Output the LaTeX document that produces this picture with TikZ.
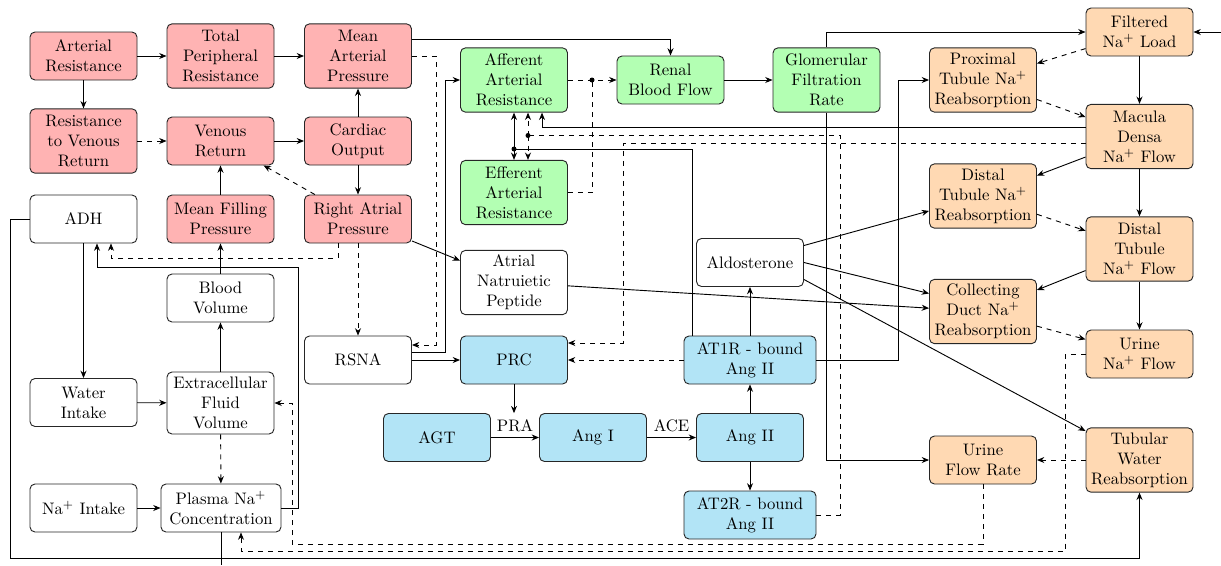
\documentclass[tikz,border=0pt]{standalone}
\usetikzlibrary{calc,arrows.meta}
\definecolor{cpink}{RGB}{255,179,179}
\definecolor{cgreen}{RGB}{179,255,179}
\definecolor{cblue}{RGB}{178,228,246}
\definecolor{corange}{RGB}{255,217,179}
\tikzset{
  box/.style={draw=black!85, rounded corners=3pt, align=center, minimum width=64.2pt,
    minimum height=28.8pt, inner sep=1pt, fill=white},
  tall/.style={minimum height=38.6pt},
  pinkb/.style={box, fill=cpink},
  greenb/.style={box, fill=cgreen},
  blueb/.style={box, fill=cblue},
  orangeb/.style={box, fill=corange},
  jdot/.style={circle, fill, inner sep=0pt, minimum size=3pt},
  >={Stealth[length=4.4pt,width=3.6pt]}
}
\begin{document}
\begin{tikzpicture}[x=0.6pt,y=-0.6pt,line width=0.55pt]
\useasboundingbox (0,0) rectangle (1221,565);
% ---- left column (circulation)
\node[pinkb] (ar) at (83.5,56) {Arterial\\Resistance};
\node[pinkb,tall] (tpr) at (220.5,56) {Total\\Peripheral\\Resistance};
\node[pinkb,tall] (map) at (358,56) {Mean\\Arterial\\Pressure};
\node[pinkb,tall] (rvr) at (83.5,141) {Resistance\\to Venous\\Return};
\node[pinkb] (vr) at (220.5,141) {Venous\\Return};
\node[pinkb] (co) at (358,141) {Cardiac\\Output};
\node[box] (adh) at (83.5,219) {ADH};
\node[pinkb] (mfp) at (220.5,219) {Mean Filling\\Pressure};
\node[pinkb] (rap) at (358,219) {Right Atrial\\Pressure};
\node[box] (bv) at (220.5,298) {Blood\\Volume};
\node[box] (rsna) at (358,360) {RSNA};
\node[box] (wi) at (83.5,402.5) {Water\\Intake};
\node[box,minimum height=37.2pt] (ecf) at (220.5,403) {Extracellular\\Fluid\\Volume};
\node[box] (nai) at (83.5,508) {Na$^+$ Intake};
\node[box,minimum width=72pt] (pna) at (221,508) {Plasma Na$^+$\\Concentration};
% ---- kidney haemodynamics
\node[greenb,tall] (aar) at (514,80) {Afferent\\Arterial\\Resistance};
\node[greenb] (rbf) at (670.5,80) {Renal\\Blood Flow};
\node[greenb,tall] (gfr) at (826.5,80) {Glomerular\\Filtration\\Rate};
\node[greenb,tall] (ear) at (514,192.5) {Efferent\\Arterial\\Resistance};
\node[box,tall] (anp) at (514,282.5) {Atrial\\Natruietic\\Peptide};
\node[box] (ald) at (750,262.5) {Aldosterone};
% ---- RAS
\node[blueb] (prc) at (514,360) {PRC};
\node[blueb,minimum width=79.2pt] (at1) at (750,360) {AT1R - bound\\Ang II};
\node[blueb] (agt) at (437,437.5) {AGT};
\node[blueb] (ang1) at (593,437.5) {Ang I};
\node[blueb] (ang2) at (750,437.5) {Ang II};
\node[blueb,minimum width=79.2pt] (at2) at (750,515) {AT2R - bound\\Ang II};
% ---- tubule
\node[orangeb] (fnl) at (1139.5,32) {Filtered\\Na$^+$ Load};
\node[orangeb,tall] (ptr) at (983,80) {Proximal\\Tubule Na$^+$\\Reabsorption};
\node[orangeb,tall] (md) at (1139.5,136.5) {Macula\\Densa\\Na$^+$ Flow};
\node[orangeb,tall] (dtr) at (983,196) {Distal\\Tubule Na$^+$\\Reabsorption};
\node[orangeb,tall] (dtf) at (1139.5,249) {Distal\\Tubule\\Na$^+$ Flow};
\node[orangeb,tall] (cd) at (983,311.5) {Collecting\\Duct Na$^+$\\Reabsorption};
\node[orangeb] (unf) at (1139.5,354) {Urine\\Na$^+$ Flow};
\node[orangeb] (ufr) at (983,460) {Urine\\Flow Rate};
\node[orangeb,tall] (twr) at (1139.5,460) {Tubular\\Water\\Reabsorption};
% ---- junctions and free ends
\coordinate (j1) at (592,80);
\coordinate (j2) at (514,149);
\coordinate (j3) at (528,135.5);
\coordinate (rin) at (1221,32);
\coordinate (bout) at (221,565);
% ---- circulation edges
\draw[->] (ar) -- (tpr);
\draw[->] (tpr) -- (map);
\draw[->] (ar) -- (rvr);
\draw[->,dashed] (rvr) -- (vr);
\draw[->] (vr) -- (co);
\draw[->] (co) -- (map);
\draw[->] (co) -- (rap);
\draw[->] (mfp) -- (vr);
\draw[->,dashed] (rap) -- (vr);
\draw[->] (bv) -- (mfp);
\draw[->] (ecf) -- (bv);
\draw[->] (wi) -- (ecf);
\draw[->,dashed] (ecf) -- (pna);
\draw[->] (nai) -- (pna);
\draw[->] (adh) -- (wi);
\draw[->,dashed] ($(rap.south)+(-20,0)$) -- ++(0,15) -| ($(adh.south)+(27.5,0)$);
\draw[->] (pna.east) -- ++(17,0) -- ++(0,-241) -| ($(adh.south)+(13.5,0)$);
\draw[->] (adh.west) -- ++(-19,0) -- ++(0,339) -| (twr.south);
\draw (pna.south) -- (bout);
% ---- kidney edges
\draw[->] ($(map.east)+(0,-17)$) -| (rbf.north);
\draw[->,dashed] (map.east) -- ++(24,0) |- ($(rsna.east)+(0,-15)$);
\draw[->] ($(rsna.east)+(0,-8)$) -- ++(33,0) |- (aar.west);
\draw[->] (rsna) -- (prc);
\draw[->] (rap) -- (anp);
\draw[->,dashed] (rap) -- (rsna);
\draw[->,dashed] (aar) -- (rbf);
\draw[dashed] (ear.east) -| (j1);
\node[jdot] at (j1) {};
\draw[->] (rbf) -- (gfr);
\draw[->] (gfr.north) |- (fnl.west);
\draw[->] (rin) -- (fnl.east);
\draw[->] ($(md.west)+(0,-9.5)$) -| ($(aar.south)+(28,0)$);
\draw[->,dashed] ($(md.west)+(0,7)$) -| ($(prc.east)+(55,-17)$) -- ($(prc.east)+(0,-17)$);
\draw ($(at1.north)+(-57.3,0)$) |- (j2);
\draw[->] (j2) -- (j2 |- aar.south);
\draw[->] (j2) -- (j2 |- ear.north);
\node[jdot] at (j2) {};
\draw[dashed] (at2.east) -- ++(24,0) |- (j3);
\draw[->,dashed] (j3) -- (j3 |- aar.south);
\draw[->,dashed] (j3) -- (j3 |- ear.north);
\node[jdot] at (j3) {};
\draw[->] (gfr.south) |- (ufr.west);
\draw[->] (at1.east) -- ++(82,0) |- (ptr.west);
% ---- RAS edges
\draw[->] (ang2) -- (at1);
\draw[->] (ang2) -- (at2);
\draw[->] (at1) -- (ald);
\draw[->,dashed] (at1) -- (prc);
\draw[->] (agt) -- node[above] (pra) {PRA} (ang1);
\draw[->] (ang1) -- node[above] (ace) {ACE} (ang2);
\draw[->] (prc.south) -- (prc.south |- pra.north);
\draw[->] ($(ald.east)+(0,-17)$) -- (dtr);
\draw[->] (ald.east) -- ($(cd.west)+(0,-18)$);
\draw[->] ($(ald.east)+(0,17)$) -- (twr);
\draw[->] (anp) -- (cd);
% ---- tubule edges
\draw[->,dashed] (fnl) -- (ptr);
\draw[->,dashed] (ptr) -- (md);
\draw[->] (fnl) -- (md);
\draw[->] (md) -- (dtr);
\draw[->,dashed] (dtr) -- (dtf);
\draw[->] (md) -- (dtf);
\draw[->] (dtf) -- (cd);
\draw[->,dashed] (cd) -- (unf);
\draw[->] (dtf) -- (unf);
\draw[->,dashed] (twr) -- (ufr);
\draw[->,dashed] (unf.west) -- ++(-20.5,0) -- ++(0,197) -| ($(pna.south)+(20,0)$);
\draw[->,dashed] (ufr.south) -- ++(0,60) -| ($(ecf.east)+(18,0)$) -- (ecf.east);
\end{tikzpicture}
\end{document}
